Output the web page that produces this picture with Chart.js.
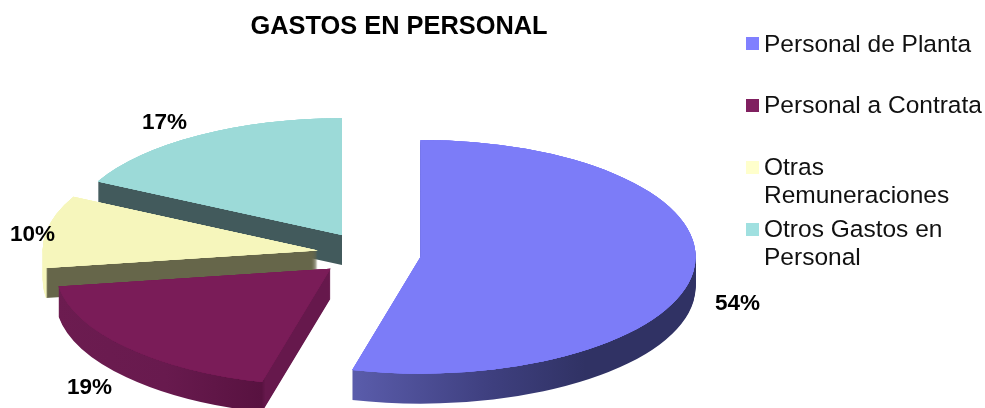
<!DOCTYPE html>
<html>
<head>
<meta charset="utf-8">
<style>
html,body{margin:0;padding:0;background:#fff}
#wrap{position:relative;width:985px;height:408px;overflow:hidden}
</style>
<script src="https://cdn.jsdelivr.net/npm/chart.js@4"></script>
</head>
<body>
<div id="wrap"><canvas id="c" width="985" height="408"></canvas></div>
<script>
const chartTitle = 'GASTOS EN PERSONAL';
const categories = ['Personal de Planta', 'Personal a Contrata', 'Otras Remuneraciones', 'Otros Gastos en Personal'];
const shares = [54, 18.6, 10, 17.4];

const legendLines = [['Personal de Planta'], ['Personal a Contrata'], ['Otras', 'Remuneraciones'], ['Otros Gastos en', 'Personal']];
const legendColors = ['#8080ff', '#802060', '#ffffcc', '#a0e0e0'];
const topColors = ['#7c7cf8', '#7a1c58', '#f6f6bc', '#9cdad8'];
const wallStops = [
  [[0, '#5a5cab'], [0.378, '#5a5cab'], [0.62, '#3f4080'], [0.8, '#303264'], [1, '#303264']],
  [[0, '#6c1c50'], [0.2, '#681a4e'], [0.375, '#581240'], [0.382, '#66184c'], [1, '#66184c']],
  [[0, '#f6f6bc'], [0.006, '#f6f6bc'], [0.009, '#66664a'], [1, '#66664a']],
  [[0, '#425a5c'], [1, '#425a5c']]
];
const labelCenters = [[737.5, 304], [89.5, 388], [32.5, 235], [164.5, 123]];
const legendRows = [[52, 41], [113, 103], [175, 165], [237, 227]];

const pieCenterY = 254, squash = 0.425, explode = 52, depth = 30, drawOrder = [3, 2, 1, 0];
const sans = '"Liberation Sans", Arial, sans-serif';

const piePlugin = {
  id: 'pie3d',
  beforeDatasetDraw(chart, args) {
    const ctx = chart.ctx;
    const arcs = args.meta.data;
    const place = (arc, lift) => {
      const mid = (arc.startAngle + arc.endAngle) / 2;
      ctx.translate(arc.x + Math.cos(mid) * explode, pieCenterY + Math.sin(mid) * explode * squash + lift);
      ctx.scale(1, squash);
      ctx.translate(-arc.x, -arc.y);
    };
    drawOrder.forEach(i => {
      const arc = arcs[i];
      const base = arc.options;
      const g = ctx.createLinearGradient(arc.x - arc.outerRadius, 0, arc.x + arc.outerRadius, 0);
      wallStops[i].forEach(s => g.addColorStop(s[0], s[1]));
      arc.options = Object.assign({}, base, {backgroundColor: g, borderWidth: 0});
      for (let d = depth; d >= 1; d--) {
        ctx.save(); place(arc, d); arc.draw(ctx); ctx.restore();
      }
      arc.options = base;
      for (let n = 0; n < 4; n++) {
        ctx.save(); place(arc, 0); arc.draw(ctx); ctx.restore();
      }
    });
    return false;
  },
  afterDraw(chart) {
    const ctx = chart.ctx;
    ctx.save();
    ctx.fillStyle = '#000';
    ctx.textAlign = 'center';
    ctx.textBaseline = 'middle';
    ctx.font = 'bold 25.4px ' + sans;
    ctx.fillText(chartTitle, 399, 27);
    ctx.font = 'bold 22.5px ' + sans;
    shares.forEach((v, i) => ctx.fillText(Math.round(v) + '%', labelCenters[i][0], labelCenters[i][1]));
    ctx.textAlign = 'left';
    ctx.textBaseline = 'alphabetic';
    ctx.font = '24.5px ' + sans;
    legendLines.forEach((lines, i) => {
      ctx.fillStyle = legendColors[i];
      ctx.fillRect(746, legendRows[i][1] - 4, 13, 13);
      ctx.fillStyle = '#111';
      lines.forEach((t, j) => ctx.fillText(t, 764, legendRows[i][0] + j * 27.5));
    });
    ctx.restore();
  }
};

new Chart(document.getElementById('c'), {
  type: 'pie',
  data: {
    labels: categories,
    datasets: [{data: shares, backgroundColor: topColors, borderWidth: 0, radius: 275, hoverOffset: 0}]
  },
  options: {
    responsive: false,
    animation: false,
    events: [],
    layout: {padding: {left: 0, right: 247, top: 0, bottom: 0}},
    plugins: {legend: {display: false}, title: {display: false}, tooltip: {enabled: false}}
  },
  plugins: [piePlugin]
});
</script>
</body>
</html>
